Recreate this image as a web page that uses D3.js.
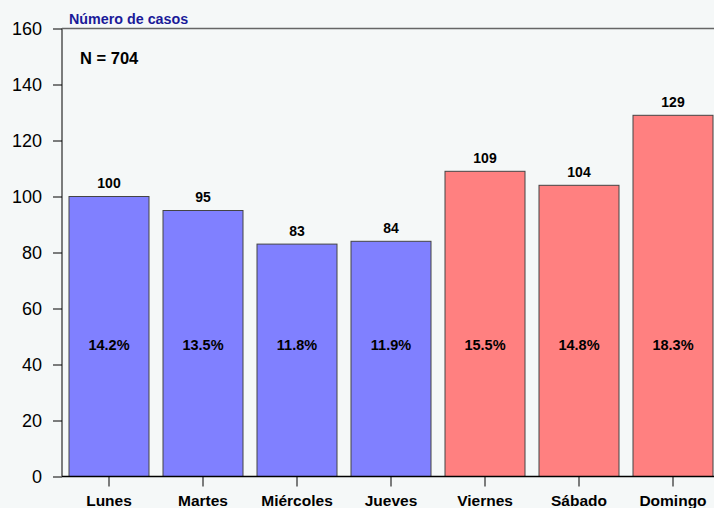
<!DOCTYPE html>
<html><head><meta charset="utf-8">
<script src="https://cdn.jsdelivr.net/npm/d3@7"></script>
<style>body{margin:0;background:#f5f8f8;}svg{display:block;font-family:"Liberation Sans",Arial,sans-serif;}</style>
</head><body>
<script>
const categories = ["Lunes","Martes","Miércoles","Jueves","Viernes","Sábado","Domingo"];
const counts = [100,95,83,84,109,104,129];
const percents = ["14.2%","13.5%","11.8%","11.9%","15.5%","14.8%","18.3%"];
const barColors = ["#8080ff","#8080ff","#8080ff","#8080ff","#ff8080","#ff8080","#ff8080"];
const yTicks = [0,20,40,60,80,100,120,140,160];
const title = "Número de casos";
const totalLabel = "N = 704";
const percentLabelY = 47;

const W = 714, H = 508;
const svg = d3.select("body").append("svg").attr("width", W).attr("height", H);
svg.append("rect").attr("width", W).attr("height", H).attr("fill", "#f5f8f8");

const mLeft = 62, mTop = 28.5, mBottom = 476.5;
const x = d3.scaleBand().domain(categories).range([mLeft, mLeft + 94*7]).paddingInner(14/94).paddingOuter(7/94);
const y = d3.scaleLinear().domain([0,160]).range([mBottom, mTop]);

// bars
svg.selectAll("rect.bar").data(categories).enter().append("rect")
  .attr("class","bar")
  .attr("x", d => x(d)).attr("width", x.bandwidth())
  .attr("y", (d,i) => y(counts[i])).attr("height", (d,i) => y(0) - y(counts[i]))
  .attr("fill", (d,i) => barColors[i]).attr("stroke", "#444").attr("stroke-width", 1);

// value labels
svg.selectAll("text.val").data(categories).enter().append("text")
  .attr("x", d => x(d) + x.bandwidth()/2).attr("y", (d,i) => y(counts[i]) - 8.5)
  .attr("text-anchor","middle").attr("font-weight","bold").attr("font-size", 14)
  .attr("fill","#000").text((d,i) => counts[i]);

// percent labels
svg.selectAll("text.pct").data(categories).enter().append("text")
  .attr("x", d => x(d) + x.bandwidth()/2).attr("y", y(percentLabelY) + 5)
  .attr("text-anchor","middle").attr("font-weight","bold").attr("font-size", 14.5)
  .attr("fill","#000").text((d,i) => percents[i]);

// y axis
const ya = svg.append("g").attr("transform", `translate(${mLeft},0)`)
  .call(d3.axisLeft(y).tickValues(yTicks).tickSize(9).tickPadding(11));
ya.selectAll("text").attr("font-size", 18).attr("fill","#000").attr("font-family","'Liberation Sans',Arial,sans-serif");
ya.selectAll("line,path").attr("stroke","#000");
ya.select("path.domain").attr("d", `M0,${y(160)}V${y(0)}`);

// top and bottom frame lines
svg.append("line").attr("x1", mLeft).attr("x2", W).attr("y1", y(160)).attr("y2", y(160)).attr("stroke","#666").attr("stroke-width",1.5);
svg.append("line").attr("x1", mLeft).attr("x2", W).attr("y1", y(0)).attr("y2", y(0)).attr("stroke","#000").attr("stroke-width",1.5);

// x axis
const xa = svg.append("g").attr("transform", `translate(0,${mBottom})`)
  .call(d3.axisBottom(x).tickSize(10).tickPadding(0).tickSizeOuter(0));
xa.select("path.domain").remove();
xa.selectAll("line").attr("stroke","#000");
xa.selectAll("text").attr("font-size", 15.5).attr("font-weight","bold").attr("fill","#000")
  .attr("font-family","'Liberation Sans',Arial,sans-serif").attr("dy", null).attr("y", 29.5);

// title
svg.append("text").attr("x", 69).attr("y", 24).attr("font-size", 14.3).attr("font-weight","bold")
  .attr("fill","#1a1a99").text(title);
svg.append("text").attr("x", 80).attr("y", 64).attr("font-size", 16.5).attr("font-weight","bold")
  .attr("fill","#000").text(totalLabel);
</script>
</body></html>
